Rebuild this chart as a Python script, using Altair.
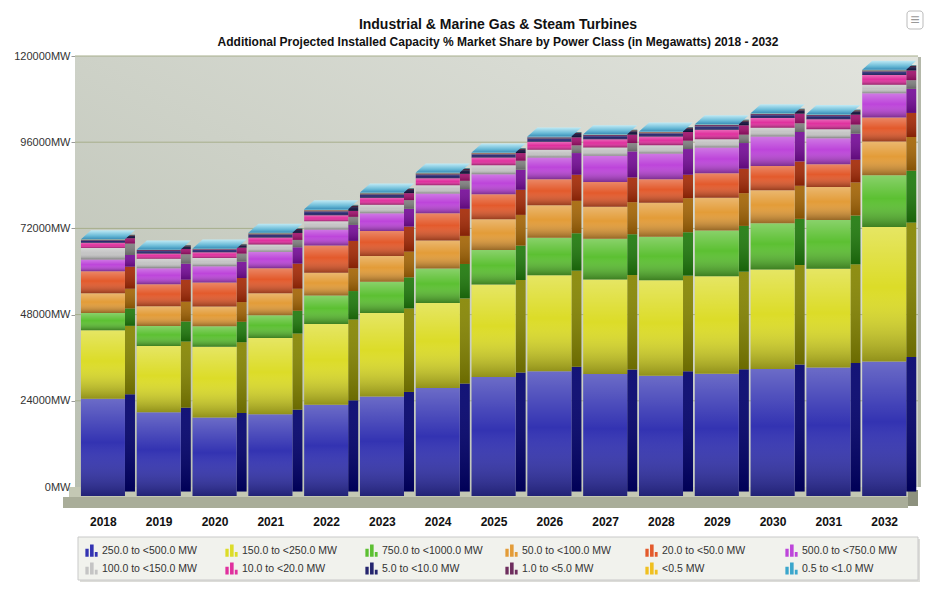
import altair as alt
import pandas as pd

years = [str(y) for y in range(2018, 2033)]

series = [
    "250.0 to <500.0 MW", "150.0 to <250.0 MW", "750.0 to <1000.0 MW",
    "50.0 to <100.0 MW", "20.0 to <50.0 MW", "500.0 to <750.0 MW",
    "100.0 to <150.0 MW", "10.0 to <20.0 MW", "5.0 to <10.0 MW",
    "1.0 to <5.0 MW", "<0.5 MW", "0.5 to <1.0 MW",
]

colors = [
    "#3333b2", "#dcdc28", "#5cc032", "#e39c38", "#e35a2c", "#bd45da",
    "#c4c4c4", "#e0309e", "#25256e", "#6e2e5e", "#f0c020", "#3aa6cc",
]
side_colors = [
    "#00006c", "#858500", "#1f7a0c", "#a56606", "#a52a06", "#760c98",
    "#7f7f7f", "#a0106c", "#10103c", "#40102e", "#a07a00", "#1a6a90",
]

title_text = "Industrial & Marine Gas & Steam Turbines"
subtitle_text = ("Additional Projected Installed Capacity % Market Share by "
                 "Power Class (in Megawatts) 2018 - 2032")

s250_500 = [27070, 23350, 21860, 22790, 25400, 27720, 30050, 33120, 34700, 33950, 33490, 34050, 35350, 35810, 37480]
s150_250 = [19060, 18420, 19720, 21210, 22500, 23260, 23720, 25760, 26790, 26330, 26600, 27160, 27720, 27450, 37400]
s750_1000 = [4850, 5580, 5670, 6320, 7910, 8650, 9580, 9580, 10420, 11350, 12100, 12740, 12840, 13580, 14420]
s50_100 = [5480, 5490, 5490, 6140, 6330, 7160, 7810, 8560, 9020, 8930, 9480, 9120, 9210, 9210, 9400]
s20_50 = [6140, 6140, 6700, 6980, 7630, 6980, 7540, 6980, 7260, 6880, 6520, 6790, 6780, 6320, 6700]
s500_750 = [3260, 4460, 4560, 4560, 4460, 4930, 5490, 5580, 6040, 7260, 7160, 7160, 8190, 7260, 6700]
s100_150 = [3160, 2610, 2230, 2050, 2240, 2420, 2320, 2510, 2140, 2320, 2320, 2330, 2420, 2510, 2420]
s10_20 = [1500, 1490, 1670, 1950, 1670, 1950, 1950, 2140, 2230, 2330, 2420, 2600, 2700, 2790, 2700]
s5_10 = [650, 700, 650, 800, 1050, 900, 1000, 900, 950, 900, 900, 1000, 900, 900, 950]
s1_5 = [180, 220, 200, 280, 350, 280, 330, 280, 300, 280, 280, 330, 280, 280, 300]
s_lt05 = [40, 50, 50, 60, 70, 60, 70, 60, 60, 60, 60, 70, 60, 60, 60]
s05_1 = [100, 130, 130, 160, 200, 160, 180, 160, 180, 150, 160, 180, 150, 160, 180]

values = [s250_500, s150_250, s750_1000, s50_100, s20_50, s500_750,
          s100_150, s10_20, s5_10, s1_5, s_lt05, s05_1]

y_ticks = [0, 24000, 48000, 72000, 96000, 120000]

rows = []
for k, (name, vals) in enumerate(zip(series, values)):
    for yr, v in zip(years, vals):
        rows.append({"year": yr, "series": name, "value": v, "order": k})
df = pd.DataFrame(rows)

FONT = "Liberation Sans"


def vgrad(stops):
    return {"gradient": "linear", "x1": 0, "y1": 0, "x2": 0, "y2": 1,
            "stops": [{"offset": o, "color": c} for o, c in stops]}


wall = {"gradient": "linear", "x1": 0, "y1": 1, "x2": 1, "y2": 0,
        "stops": [{"offset": 0, "color": "#b9bfb1"}, {"offset": 1, "color": "#e2e4de"}]}

shade = vgrad([(0, "rgba(255,255,255,0.28)"), (0.45, "rgba(255,255,255,0.0)"),
               (1, "rgba(0,0,0,0.34)")])
side_shade = vgrad([(0, "rgba(255,255,255,0.08)"), (1, "rgba(0,0,0,0.2)")])
cap_fill = vgrad([(0, "#bfeaf5"), (0.6, "#6cbcd8"), (1, "#3a8fb8")])

ICON = ("M-1,-0.3L-0.46,-0.3L-0.46,1L-1,1Z "
        "M-0.24,-1L0.35,-1L0.35,1L-0.24,1Z "
        "M0.54,0.2L1,0.2L1,1L0.54,1Z")
CAP = "M-1,0.1667L0.6296,0.1667L1,-0.1667L-0.6296,-0.1667Z"

ysc = alt.Scale(domain=[0, 120000], nice=False)
yax = alt.Axis(title=None, values=y_ticks,
               labelExpr="datum.value + 'MW'", labelFont=FONT,
               labelFontSize=11, labelColor="#333", tickSize=4,
               tickColor="#9a9a9a", labelPadding=1, domain=False,
               grid=False)

X = alt.X("year:N", sort=years,
          scale=alt.Scale(paddingInner=0, paddingOuter=0.08),
          axis=alt.Axis(title=None, labelFont=FONT, labelFontSize=12,
                        labelFontWeight="bold", labelColor="#111",
                        labelPadding=29, labelOffset=-4, ticks=False,
                        domain=False, grid=False, labelAngle=0))
Y = alt.Y("v1:Q", scale=ysc, axis=yax)
Y2 = alt.Y2("v0:Q")
C = alt.Color("series:N", scale=alt.Scale(domain=series, range=colors),
              legend=alt.Legend(title=None, orient="none", legendX=3,
                                legendY=481, direction="horizontal",
                                columns=6, gridAlign="all",
                                symbolType=ICON, symbolSize=150,
                                symbolStrokeWidth=0, symbolOpacity=1,
                                labelFont=FONT, labelFontSize=10.5,
                                labelColor="#333", labelOffset=4,
                                labelLimit=0, padding=7,
                                rowPadding=5, columnPadding=22))
CS = alt.Color("series:N", scale=alt.Scale(domain=series, range=side_colors),
               legend=None)

base = alt.Chart(df).transform_stack(
    stack="value", groupby=["year"], as_=["v0", "v1"],
    sort=[alt.SortField("order", order="ascending")])

deco = alt.Data(values=[{"k": 1}])
wall_rect = alt.Chart(deco).mark_rect(fill=wall).encode(
    x=alt.value(0), x2=alt.value(843), y=alt.value(0), y2=alt.value(431))
wall_edge = alt.Chart(deco).mark_rect(color="#b4b8aa").encode(
    x=alt.value(843), x2=alt.value(846), y=alt.value(1), y2=alt.value(431))
grid = alt.Chart(alt.Data(values=[{"t": v} for v in y_ticks[1:]])).mark_rule(
    color="#a7ae8c", strokeWidth=1).encode(
    y=alt.Y("t:Q", scale=ysc, axis=yax), x=alt.value(0), x2=alt.value(843))
floor_top = alt.Chart(deco).mark_rect(color="#c4c8b4").encode(
    x=alt.value(-6), x2=alt.value(840), y=alt.value(431), y2=alt.value(441))
floor_front = alt.Chart(deco).mark_rect(color="#a9ad99").encode(
    x=alt.value(-12), x2=alt.value(833), y=alt.value(441), y2=alt.value(452))
floor_end = alt.Chart(deco).mark_rect(color="#8d917e").encode(
    x=alt.value(833), x2=alt.value(843), y=alt.value(434), y2=alt.value(450))
legend_shadow = alt.Chart(deco).mark_rect(color="#dcdcd8").encode(
    x=alt.value(5), x2=alt.value(845), y=alt.value(483), y2=alt.value(526))
legend_box = alt.Chart(deco).mark_rect(fill="#f1f2ed", stroke="#c9c9c9",
                                       strokeWidth=1).encode(
    x=alt.value(3), x2=alt.value(843), y=alt.value(481), y2=alt.value(524))
menu_box = alt.Chart(deco).mark_rect(fill="white", stroke="#bbbbbb",
                                     cornerRadius=3, strokeWidth=1).encode(
    x=alt.value(832), x2=alt.value(848), y=alt.value(-45), y2=alt.value(-27))
menu_txt = alt.Chart(deco).mark_text(text="≡", font=FONT, fontSize=16,
                                     color="#999999").encode(
    x=alt.value(840), y=alt.value(-36))
title_mark = alt.Chart(deco).mark_text(
    text=title_text, font=FONT, fontSize=14, fontWeight="bold",
    color="#111111", align="center", baseline="alphabetic").encode(
    x=alt.value(423), y=alt.value(-27))
subtitle_mark = alt.Chart(deco).mark_text(
    text=subtitle_text, font=FONT, fontSize=12, fontWeight="bold",
    color="#111111", align="center", baseline="alphabetic").encode(
    x=alt.value(423), y=alt.value(-10.5))

side = base.mark_bar(width=10, xOffset=22.6, yOffset=4.5, y2Offset=4.5,
                     strokeWidth=0).encode(x=X, y=Y, y2=Y2, color=CS)
side_sh = base.mark_bar(width=10, xOffset=22.6, yOffset=4.5, y2Offset=4.5,
                        fill=side_shade, strokeWidth=0).encode(x=X, y=Y, y2=Y2)
front = base.mark_bar(width=44, xOffset=-4.4, yOffset=9, y2Offset=9,
                      strokeWidth=0).encode(x=X, y=Y, y2=Y2, color=C)
front_shade = base.mark_bar(width=44, xOffset=-4.4, yOffset=9, y2Offset=9,
                            fill=shade, strokeWidth=0).encode(x=X, y=Y, y2=Y2)
cap = base.transform_filter("datum.order == 11").mark_point(
    shape=CAP, size=2916, filled=True, fill=cap_fill, opacity=1,
    strokeWidth=0, xOffset=0.6, yOffset=4.5).encode(x=X, y=Y)

chart = alt.layer(
    wall_rect, wall_edge, grid, floor_top, floor_front, floor_end,
    legend_shadow, legend_box,
    side, side_sh, front, front_shade, cap,
    menu_box, menu_txt, title_mark, subtitle_mark
).resolve_scale(color="independent").properties(
    width=846, height=431,
    autosize=alt.AutoSizeParams(type="none"),
    padding={"left": 67, "top": 48, "right": 10, "bottom": 100},
    background="white",
).configure_view(strokeWidth=0)

chart.save("out.html", embed_options={"renderer": "svg", "actions": False})
